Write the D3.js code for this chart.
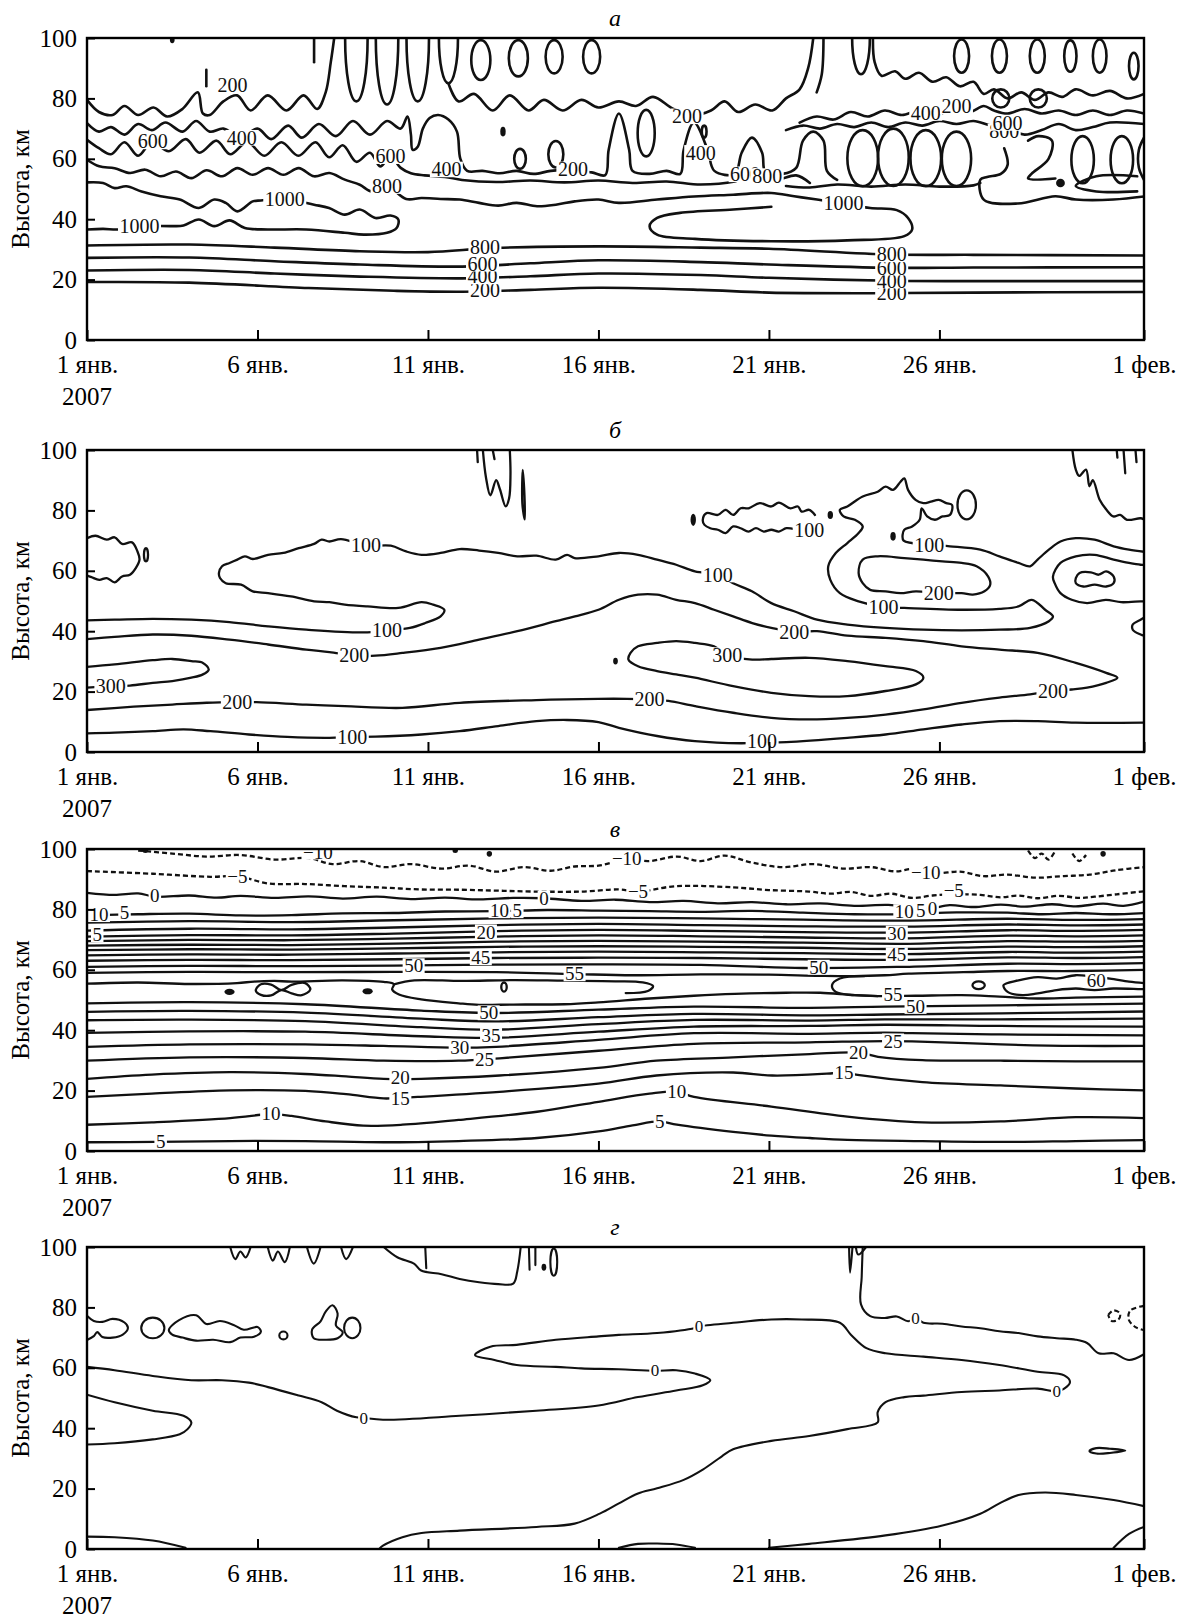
<!DOCTYPE html>
<html>
<head>
<meta charset="utf-8">
<script src="https://cdn.jsdelivr.net/npm/d3@7"></script>
<style>
 body { margin: 0; background: #fff; }
 svg text { font-family: "Liberation Serif", "Times New Roman", serif; }
</style>
</head>
<body>
<svg id="chart" width="1179" height="1620"></svg>
<script>
// ---- axes ----
const dayTicks = [0, 5, 10, 15, 20, 25, 31];
const dayTickLabels = ["1 янв.", "6 янв.", "11 янв.", "16 янв.", "21 янв.", "26 янв.", "1 фев."];
const kmTicks = [0, 20, 40, 60, 80, 100];
const panelTitles = ["а", "б", "в", "г"];

// ---- panel а : contour lines [day, km] ----
const aLines = [
 [[0,79.5],[0.35,75.5],[0.75,74.5],[1.1,77.5],[1.5,74.5],[1.95,77],[2.35,74],[2.8,76.5],[3.25,82],[3.4,75],[3.6,74.5],[4.0,79],[4.4,81],[4.8,76],[5.3,81],[5.85,76],[6.35,81],[6.75,76.5],[7.0,82],[7.15,92],[7.25,100]],
 [[3.5,84],[3.5,89.5]],
 [[6.66,92],[6.66,99.8]],
 [[10.6,85],[10.9,79],[11.35,81.5],[11.9,76],[12.4,81],[12.95,76],[13.4,79.5],[13.95,76],[14.5,79.5],[15,77],[15.6,79],[16.1,77.5],[16.6,80.5],[17.2,76.5],[17.8,74.5],[18.3,76],[18.7,79],[19.1,75.5],[19.6,78],[20.1,76],[20.5,80],[20.9,83],[21.15,90],[21.3,100]],
 [[21.6,100],[21.55,88],[21.4,82]],
 [[23.05,100],[23.1,92],[23.3,87.5],[23.7,89],[24.0,86.5],[24.4,88.5],[24.8,85.5],[25.2,87],[25.6,84],[26.0,85.5],[26.3,81.5],[26.6,83],[27.0,80],[27.4,82],[27.8,79.5],[28.2,82],[28.6,80.5],[29.0,83],[29.5,81],[30.0,82.5],[30.5,80],[31,81.5]],
 [[20.9,72],[21.4,74],[21.9,73],[22.4,75.5],[22.9,74],[23.4,76],[23.9,74.5],[24.4,76],[24.9,74.5],[25.4,76.5],[25.9,75.5],[26.3,77.5],[26.6,76],[27.0,75],[27.5,76.5],[28,75],[28.5,76],[29,74.5],[29.5,76],[30,74.5],[30.5,76],[31,75]],
 [[20.5,69.5],[21,71],[21.5,70],[22,71.5],[22.5,70.5],[23,72],[23.5,70.5],[24,72],[24.5,71],[25,72.5],[25.5,71.5],[26,72.5],[26.5,71],[27,70],[27.5,68],[28,69.5],[28.5,71.5],[29,69.5],[29.5,70.5],[30,72],[31,71.5]],
 [[0,71.8],[0.35,69],[0.7,70.5],[1.1,68],[1.5,71.5],[1.9,69.5],[2.3,72],[2.8,69],[3.2,72.5],[3.6,69],[4.0,70],[4.5,67],[5.0,70],[5.4,66.5],[5.9,71],[6.3,67],[6.8,71.5],[7.3,67.5],[7.8,72.5],[8.3,68],[8.8,72.5],[9.2,70],[9.4,74],[9.5,68],[9.55,63],[9.7,64],[9.85,70],[10.05,73.5],[10.3,74.5],[10.6,73],[10.85,69],[10.95,60],[11.15,56],[11.6,56],[12.1,55.2],[12.6,56],[13.1,55],[13.6,56],[14.25,56.4],[14.8,55.5],[15.2,54.6],[15.3,63],[15.6,75],[15.9,63],[16.0,56],[16.5,55],[17,56],[17.4,55],[17.5,63],[17.8,72],[18.2,63],[18.4,56],[19,55],[19.2,62],[19.5,67],[19.8,62],[19.9,55.5],[20.4,55],[20.8,57],[21.0,66],[21.3,69],[21.6,66],[21.7,56],[22.0,53]],
 [[0,66.3],[0.35,63.5],[0.7,61.5],[1.1,65.5],[1.5,61],[1.9,65.5],[2.4,62.5],[2.9,66.5],[3.3,62],[3.8,66],[4.2,61.5],[4.7,65.5],[5.2,61],[5.7,65.5],[6.2,61],[6.7,65.5],[7.1,60.5],[7.5,64.5],[7.9,59],[8.3,62],[8.6,57.5],[8.9,60.8],[9.2,57],[9.5,55.2],[9.9,54.5],[10.5,54],[11,53],[12,52.3],[13,52.8],[14,52.2],[15,52.8],[16,52],[17,52.5],[18,51.5],[19,52.5],[19.6,54.7],[20.2,53],[20.8,54.5],[21.2,52]],
 [[0,59.7],[0.36,57.5],[0.81,56.9],[1.26,55.3],[1.71,56.4],[2.16,54.2],[2.61,55.8],[3.06,53.6],[3.51,56.2],[3.96,54.2],[4.41,56.9],[4.86,54.7],[5.31,56.9],[5.76,54.7],[6.21,56.9],[6.66,54.2],[7.11,55.3],[7.56,53.1],[8.0,51.4],[8.35,49.2],[8.8,50.9],[9.36,46.7],[9.81,47],[10.37,46.7],[10.93,46.5],[11.5,45.4],[12.06,44.5],[12.6,45.4],[13.2,44.3],[13.75,44.8],[14.3,45.9],[15,46.5],[15.6,45.4],[16.72,46.5],[17.8,47.5],[18.95,48.1],[20.07,48.7],[20.74,47.6],[21.41,46.5],[22.19,45.2],[22.97,43.7],[23.75,43],[24.08,40.4],[24.2,36.6],[23.97,34.4],[22.3,33],[20.07,32.7],[17.83,33.5],[16.72,34.9],[16.5,37.7],[16.72,40.4],[17.39,42.1],[18.95,43.2],[20.07,44.1]],
 [[0,52.2],[0.47,52],[0.81,50.3],[1.15,50.9],[1.6,49.2],[2.16,47.6],[2.72,46.5],[3.28,43.7],[3.73,46.5],[4.07,45.4],[4.41,42.6],[4.86,45.9],[5.1,46.2],[5.8,46.7],[6.66,44.8],[7.1,43.7],[7.56,41.5],[8.0,43.2],[8.46,40.4],[8.9,41.2],[9.13,39.9],[9.08,37.1],[8.8,35.5],[8.12,34.9],[7.56,35.5],[6.43,36.6],[5.3,36.6],[4.63,37.1],[4.18,39.6],[3.73,37.7],[3.28,39.9],[2.83,37.9],[2.5,37.7],[1.54,37.7],[0.92,36.6],[0.47,36.8],[0,36.6]],
 [[0,19.2],[3,19],[6.5,17.2],[9,16.3],[11,16],[13,16.6],[15,17.3],[18,16.6],[20,15.7],[23,15.5],[26,15.7],[31,15.9]],
 [[0,23],[3,23.2],[5.5,22],[8,21],[11,20.4],[13,21.1],[15,22],[18,21.5],[20,20.6],[23.6,19.6],[26,19.5],[31,19.5]],
 [[0,27.2],[3,27.3],[5.5,26.1],[8,25],[11,24.3],[13,25.4],[15,26.4],[18,25.8],[20,25],[23.6,23.9],[26,24],[31,24.1]],
 [[0,31.3],[3,31.6],[5.5,30.6],[8,29.4],[10,29.1],[12,30.5],[15,31],[18,30.6],[20,30.2],[23.6,28.3],[26,28.2],[31,28]],
 [[26.9,63.5],[27.0,58],[26.8,55],[26.4,54],[26.2,53.1],[26.3,46.5],[27.3,45.2],[28.4,47.6],[29,46.5],[30.1,46.5],[31,47.5]],
 [[30.8,54.2],[29.6,54.2],[29.0,51],[29.6,49.2],[30.8,49.2]],
 [[27.6,66],[27.9,67.5],[28.3,66],[28.2,60],[27.7,55],[27.6,53.5],[28.4,53.5]],
 [[31,67],[30.85,63],[30.85,57],[31,53]],
 [[20.5,51],[21.2,50.5],[22,51.5],[23,50.8],[24,51.5],[25,50.8],[26,51.2],[26.2,52]]
];
const aLoops = [];
// [day, km, half-width in days, half-height in km]
const aOvals = [
 [7.9,100,0.33,21],[8.8,100,0.33,22],[9.7,100,0.33,21],[10.6,100,0.28,15],[22.7,100,0.26,12],
 [11.55,92.7,0.28,6.6],[12.65,93.3,0.28,6],[13.7,93.8,0.25,5.5],[14.8,93.8,0.25,5.5],
 [25.65,94,0.22,5.5],[26.76,94,0.22,5.5],[27.87,94,0.22,5.5],[28.84,94,0.18,5.2],[29.7,94,0.2,5.5],[30.7,90.7,0.14,4.4],
 [12.7,60,0.17,3.3],[13.75,61.5,0.22,4.4],[16.4,68.5,0.25,7.7],[18.1,69,0.07,2],
 [22.75,60.2,0.45,9.3],[23.65,60.5,0.45,9.5],[24.6,60.2,0.45,9.3],[25.5,60,0.43,9],
 [29.2,59.7,0.33,7.8],[30.35,59.7,0.33,7.8],[26.8,80,0.25,3],[27.9,80,0.25,3]
];
const aDots = [[12.2,69,0.05,1.3],[28.55,52,0.1,1.1],[2.5,99.3,0.04,0.7]];
const aLabels = [
 [4.27,84.5,"200"],[1.93,65.7,"600"],[4.54,66.9,"400"],[5.8,46.7,"1000"],[1.54,37.7,"1000"],
 [8.9,60.8,"600"],[8.8,50.9,"800"],[10.54,56.4,"400"],[14.25,56.4,"200"],
 [11.67,16.4,"200"],[11.6,21,"400"],[11.6,25.2,"600"],[11.67,30.6,"800"],
 [17.6,74,"200"],[18.0,61.9,"400"],[19.3,54.8,"600"],[19.95,54.2,"800"],[22.19,45.2,"1000"],
 [24.6,75.1,"400"],[25.5,77.3,"200"],[26.9,69,"800"],[27.0,71.8,"600"],
 [23.6,15.5,"200"],[23.6,19.6,"400"],[23.6,23.9,"600"],[23.6,28.3,"800"]
];

// ---- panel б ----
const bLines = [
 [[0,70.8],[0.25,71.6],[0.58,70.3],[0.81,71.1],[1.03,68.9],[1.32,69.4],[1.48,66.4],[1.54,63.7],[1.43,60.9],[1.26,58.7],[1.03,58.1],[0.81,56.2],[0.58,57.6],[0.36,57],[0.13,57.9],[0,58.4]],
 [[11.44,100],[11.46,96]],
 [[11.61,100],[11.7,91],[11.83,85],[12.0,90],[12.11,87],[12.28,81.3],[12.38,84],[12.42,92],[12.4,100]],
 [[11.9,100],[11.95,97]],
 [[0,43.6],[0.81,43.8],[1.93,44.1],[3.06,43.8],[4.18,43],[5.31,41.6],[6.43,40.5],[8.12,39.6],[8.8,40.3],[9.47,41.1],[9.92,42.7],[10.37,44.9],[10.48,47.1],[10.15,48.8],[9.81,49.6],[9.13,47.7],[8.23,48.2],[7.56,48.8],[7.11,49.6],[6.66,49.9],[5.98,51.5],[5.31,52.6],[4.86,53.2],[4.52,55.4],[4.07,55.9],[3.9,57.6],[3.87,59.3],[3.96,61.5],[4.18,62.6],[4.41,63.7],[4.63,64.8],[4.86,63.9],[5.31,65.3],[5.76,65.9],[6.21,67.5],[6.66,68.9],[6.88,70.3],[7.11,69.7],[7.45,70.5],[8.18,68.3],[8.91,68.3],[9.36,66.4],[9.81,65.3],[10.37,65.9],[10.93,67.2],[11.5,66.7],[12.06,65.9],[12.62,64.8],[13.18,65],[13.75,63.7],[14.08,65.3],[14.3,64.2],[15,64.8],[15.6,65.9],[16.16,65.3],[16.72,63.7],[17.28,62],[17.83,59.8],[18.5,58.7],[18.95,55.9],[19.5,53.2],[20.07,49.3],[20.74,46.6],[21.41,43.8],[22.3,42.2],[23.42,41.1],[24.53,40.5],[25.65,40.3],[26.76,40.5],[27.66,41.1],[28.21,43.3],[28.33,44.9],[28.1,47.1],[27.71,50.4],[27.32,48.2],[26.76,47.4],[25.65,47.1],[23.97,47.7],[23.36,48],[22.63,49.9],[22.08,52.6],[21.8,57],[21.74,61.5],[21.96,65.9],[22.3,69.2],[22.63,72.5],[22.75,74.7],[22.52,76.9],[22.19,78],[22.08,80.2],[22.3,81.3],[22.75,84.6],[23.19,86.2],[23.42,87.9],[23.64,86.8],[23.86,89.5],[23.97,90.6],[24.08,86.8],[24.3,83.5],[24.53,82.4],[24.75,82.9],[24.98,83.5],[25.2,82.4],[25.37,81.8],[25.31,78.5],[25.09,78],[24.87,76.9],[24.64,78],[24.48,80.7],[24.42,76.9],[24.2,74.7],[23.97,73.6],[23.92,71.9],[23.95,70],[24.7,68.6],[25.31,68.1],[26.2,67],[26.76,64.8],[27.32,62.6],[27.66,61.5],[27.88,63.7],[28.21,67],[28.55,69.7],[29,70.8],[29.55,70.3],[30.11,68.1],[30.56,67],[31,66.3]],
 [[0,37.4],[0.81,38.1],[1.93,38.9],[3.06,38.5],[4.18,37.2],[5.31,35.6],[6.43,33.9],[7.11,33.1],[7.84,32],[8.46,31.9],[9.25,32.8],[10.37,34.5],[11.5,37.2],[12.62,40],[13.75,43.3],[14.31,44.9],[15,47.1],[15.6,50.4],[16.16,52.1],[16.72,52.1],[17.28,50.4],[17.83,49.3],[18.39,47.1],[18.95,44.9],[19.51,42.7],[20.07,41.1],[20.74,39.8],[21.41,40],[22.3,38.5],[23.42,37.8],[24.53,36.7],[25.65,35],[26.76,33.9],[27.88,32.8],[29,29.5],[29.89,26.2],[30.22,24.6],[29.89,22.9],[29.33,21.3],[28.88,20.7],[28.33,20.2],[27.66,19.1],[26.76,18],[25.65,16.3],[24.53,14.1],[23.42,12.4],[22.3,11.3],[21.18,10.8],[20.07,11.3],[18.95,13],[17.83,15.2],[17.05,16.9],[16.5,17.4],[15.83,17.6],[15,17.6],[13.18,17.2],[10.93,16.3],[9.25,14.6],[7.56,15.2],[6.43,15.7],[4.97,16.5],[4.41,16.5],[3.51,16.3],[2.5,15.7],[1.37,15],[0,13.9]],
 [[0,28.2],[0.81,29],[1.93,30.4],[2.5,30.8],[3.06,30.1],[3.4,29.5],[3.57,27.3],[3.4,25.7],[3.06,24.6],[2.5,23.5],[1.93,22.9],[1.26,22],[0.7,21.8],[0,21.3]],
 [[0,6.2],[0.81,6.4],[1.93,6.9],[2.83,7.5],[3.62,6.9],[4.75,5.8],[5.87,5],[7.11,4.7],[7.78,5],[8.46,5.1],[9.81,5.8],[10.93,6.9],[12.06,8.6],[13.18,10.2],[14.08,10.6],[15,9.9],[15.6,8],[16.72,5.3],[17.83,3.6],[19.17,2.9],[19.79,3.1],[20.51,3.3],[22.3,4.7],[23.42,5.8],[24.53,7.5],[25.65,9.1],[26.76,10.2],[27.88,10.2],[29,9.7],[31,9.7]],
 [[31,62],[30.9,62],[30.56,62.6],[30.11,63.7],[29.55,65.3],[29,64.8],[28.55,62.6],[28.33,58.1],[28.38,55.9],[28.55,52.6],[28.88,50.4],[29.33,49.3],[29.88,50.4],[30.33,49.6],[30.9,49.9],[31,49.9]],
 [[31,44.5],[30.9,43.8],[30.67,42.2],[30.67,40.5],[30.9,38.9],[31,38.5]],
 [[28.9,100],[29.0,93.5],[29.1,91.4],[29.3,93.5],[29.4,88],[29.5,90],[29.7,83.5],[29.9,80.2],[30.1,78],[30.3,78.5],[30.5,76.9],[30.9,77.4],[31,77]],
 [[30.4,100],[30.45,92.3]],[[30.2,100],[30.22,97.5]],[[30.75,100],[30.78,96]],
 [[21.35,78.5],[21.18,80.2],[20.96,79.6],[20.85,81.3],[20.63,80.7],[20.29,82.6],[20.07,81.3],[19.73,82.4],[19.4,80.7],[19.17,80.7],[18.95,78.5],[18.73,80.2],[18.5,78.5],[18.17,79.1],[18.06,76.9],[18.11,75.2],[18.28,74.1],[18.5,73.6],[18.73,72.5],[18.95,74.7],[19.17,74.1],[19.4,73],[19.62,74.1],[19.85,73],[20.07,73.6],[20.29,73],[20.51,74.1],[20.75,73.8]]
];
const bLoops = [
 [[12.78,93.4],[12.83,85],[12.84,77],[12.77,82]],
 [[22.75,63.7],[23.19,64.8],[23.97,64.2],[24.53,63.7],[25.09,63.1],[25.65,62.6],[26.09,61.5],[26.43,58.1],[26.49,55.4],[26.32,53.2],[25.98,52.1],[25.65,52.6],[24.98,52.6],[24.31,53.2],[23.86,52.6],[23.42,53.2],[22.97,53.7],[22.75,55.9],[22.63,59.3]],
 [[29,57.6],[29.11,59.3],[29.44,59.5],[29.67,58.7],[29.89,59.8],[30.11,58.1],[30.11,55.9],[29.89,54.8],[29.55,55.4],[29.22,54.8],[29,55.9]],
 [[15.94,32.8],[16.16,35],[16.72,36.1],[17.28,36.7],[17.83,36.1],[18.39,35],[18.78,32],[19.51,30.6],[20.07,30.8],[21.18,31.2],[22.3,30.1],[23.42,28.4],[24.31,26.8],[24.53,24.6],[24.31,22.4],[23.42,20.2],[22.3,18.5],[21.18,18.5],[20.07,19.6],[18.95,21.8],[17.83,24.6],[17.28,25.7],[16.72,26.8],[16.16,28.4],[15.88,30.6]]
];
const bOvals = [[1.73,65.3,0.06,2.2],[25.8,81.8,0.27,4.8]];
const bDots = [[17.78,76.9,0.05,1.7],[21.8,78.5,0.05,1],[23.64,71.4,0.05,1.1],[15.5,30.1,0.04,0.8]];
const bLabels = [
 [8.8,40.3,"100"],[8.18,68.6,"100"],[7.84,32,"200"],[0.7,21.8,"300"],[4.41,16.5,"200"],[7.78,5,"100"],
 [18.5,58.7,"100"],[21.18,73.6,"100"],[24.7,68.6,"100"],[23.36,48,"100"],[24.98,52.6,"200"],
 [20.74,39.6,"200"],[18.78,32,"300"],[28.33,20.2,"200"],[16.5,17.4,"200"],[19.8,3.6,"100"]
];

// ---- panel в ----
const vLines = [
 // lower band: 5 .. 50
 [[0,2.9],[2,3],[4.2,3.3],[6.4,3.3],[8.7,2.9],[10.9,3.3],[13.2,4.3],[15,6.5],[16,8.5],[16.8,9.8],[17.3,8.7],[18.95,6.3],[20.07,5.1],[21.2,4.3],[22.3,3.7],[24.5,3.3],[26.8,3],[29,3.3],[31,3.6]],
 [[0,8.7],[1.9,9.5],[4.2,10.9],[5.1,12],[5.4,12.3],[6,11.6],[7,9.8],[8.1,8.4],[9.25,8.7],[10.9,10.3],[13.2,13],[15,16.3],[16.5,19],[17.3,19.6],[17.8,17.9],[20.07,14.7],[22.3,11.4],[24.5,9.5],[26.8,9.8],[29,11.2],[31,10.9]],
 [[0,17.9],[1.9,19],[4.2,20.1],[6.4,19.9],[7.6,18.8],[8.7,17.4],[9.2,17.6],[9.7,17.9],[12.1,19.6],[15,22.3],[16.7,25],[18.95,26],[20.1,25],[21.7,25.6],[22.2,26],[22.6,25.2],[24.5,22.8],[26.8,21.7],[29,20.7],[31,20.1]],
 [[0,23.9],[1.9,25.3],[4.2,26.1],[6.4,25.5],[7.6,24.7],[8.7,23.9],[9.8,23.9],[12.1,25],[15,27.5],[16.7,29.9],[18.95,31],[21.2,32.1],[22.6,32.6],[23.2,31.2],[24.5,30.1],[26.8,29.9],[29,29.7],[31,29.7]],
 [[0,29.9],[3,31],[6.4,30.8],[8.7,29.9],[10.9,29.9],[12.1,30.7],[15,33.2],[17.8,35.5],[21.2,36],[23.4,36.4],[24.2,36.3],[26.8,35.3],[29,34.8],[31,34.8]],
 [[0,34.5],[3,35.3],[6.4,35.3],[8.7,34.8],[10.9,34.2],[12,34.5],[15,36.8],[17.8,39],[21.2,38.8],[23.4,39.2],[24.2,39],[26.8,38.6],[31,38.3]],
 [[0,39.1],[3,39.6],[6.4,39.5],[9.8,38],[12,37.5],[15,39.5],[17.8,41.2],[21.2,41.4],[23.4,41.8],[26.8,41.4],[31,41.2]],
 [[0,43.3],[3,43.5],[6.4,43],[9.8,41],[12,40.2],[15,42],[17.8,43.4],[21.2,43.2],[23.4,43.6],[26.8,43.6],[31,43.8]],
 [[0,46.1],[3,46.4],[6.4,45.8],[9.8,43.8],[12,42.9],[15,44.3],[17.8,45.4],[21.2,44.9],[23.4,45.2],[26.8,45.6],[31,46.2]],
 [[0,48.9],[3,49.3],[6.4,48.6],[9.8,46.5],[12,45.7],[15,46.8],[17.8,47.8],[21.2,47.4],[23.4,47.8],[26.8,48.2],[31,48.8]],
 // 55 around the maximum
 [[0,55.4],[1.5,55.8],[3,55.3],[4.4,55.6],[4.9,56.1],[5.5,56.3],[6.0,56.1],[7.5,56.5],[8.7,56],[9.0,55.2],[8.95,53.5],[9.15,51.8],[9.8,50.2],[10.9,48.9],[11.5,48.4],[12.5,48.5],[14,48.6],[15,49.2],[16.5,50.5],[17.8,51.4],[19,52],[20.5,52.4],[21.5,52.4],[22.5,51.6],[23.2,51.3],[24.3,51.4],[25.65,51.6],[26.76,51.1],[27.88,50.5],[29,50.8],[31,51.1]],
 [[9.0,55.2],[9.6,56.5],[11,56.3],[12.5,56.6],[14,56.4],[15.5,56.2],[16.3,55.8],[16.6,54.6],[16.45,53],[15.8,52.3]],
 [[22.8,57.9],[22.08,57.1],[21.85,54.9],[21.96,52.7],[22.52,51.6],[23.19,51.3]],
 [[31,55.6],[30.56,56.1],[30,57.1],[29.55,57.6],[29,58.2],[28.44,57.1],[27.88,57.6],[27.32,56.5],[26.88,54.9],[27,52.7],[27.44,51.6],[27.88,52.2],[28.44,53.3],[29,53.8],[29.55,53.3],[30.1,53.8],[30.9,53.6],[31,53.6]],
 // upper band: 55 .. 5
 [[0,59],[3,59.3],[6,59.2],[9,59.3],[12,59.2],[14.3,58.6],[16,58.2],[18,58.5],[20,58.4],[21.5,58],[22.5,57.9],[23.4,58.2],[24.1,58.7],[25.7,59.2],[27,59.6],[29,59.6],[31,60]],
 [[0,61],[3,61.3],[6,61.2],[9,61.4],[12,61.7],[15,61.8],[18,61.6],[21,60.6],[24,61],[27,62],[29,61.9],[31,62.2]],
 [[0,63],[3,63.3],[6,63.2],[9,63.5],[12,63.9],[15,64],[18,63.9],[21,63.5],[24,63.3],[27,64.1],[29,63.9],[31,64.2]],
 [[0,64.8],[3,65.1],[6,65],[9,65.4],[12,65.8],[15,66],[18,65.8],[21,65.5],[24,65.2],[27,65.9],[29,65.7],[31,66]],
 [[0,66.5],[3,66.8],[6,66.7],[9,67.1],[12,67.6],[15,67.8],[18,67.6],[21,67.3],[24,66.9],[27,67.7],[29,67.5],[31,67.8]],
 [[0,68],[3,68.3],[6,68.2],[9,68.7],[12,69.3],[15,69.6],[18,69.3],[21,69],[24,68.6],[27,69.5],[29,69.3],[31,69.6]],
 [[0,69.5],[3,69.9],[6,69.8],[9,70.3],[12,71],[15,71.4],[18,71.1],[21,70.7],[24,70.4],[27,71.3],[29,71.1],[31,71.4]],
 [[0,71],[3,71.5],[6,71.4],[9,72],[12,72.8],[15,73.2],[18,72.9],[21,72.5],[24,72.3],[27,73.1],[29,72.9],[31,73.2]],
 [[0,73],[3,73.6],[6,73.4],[9,74],[12,74.8],[15,75.2],[18,74.8],[21,74.4],[24,74.3],[27,75],[29,74.7],[31,75]],
 [[0,75.6],[3,76.1],[6,75.8],[9,76.4],[12,77],[15,77.3],[18,77],[21,76.6],[24,76.3],[27,76.9],[29,76.5],[31,76.8]],
 [[0,78],[1.5,78.4],[3,78.6],[4.5,78],[6,78.1],[7.5,78.7],[9,78.8],[10.5,79.3],[12,79.4],[13.5,79.8],[15,79.6],[16.5,79.4],[18,79.2],[19.5,79.5],[21,78.9],[22.5,78.4],[24,78.4],[25.5,79],[27,78.9],[28,78.4],[29,78.8],[30,78.4],[31,78.8]],
 // 0
 [[0,85.5],[0.8,84.8],[1.5,85.3],[2,84.2],[3,84.6],[3.8,83.9],[4.5,84.5],[5.5,83.8],[6.5,84.3],[7.5,83.6],[8.5,84.2],[9.5,83.4],[10.5,83.9],[11.5,83.3],[12.5,83.8],[13.4,83.7],[14.5,82.8],[15.5,83.2],[16.5,82.4],[17.5,82.8],[18.5,82],[19.5,82.4],[20.5,81.7],[21.5,82],[22.5,81.2],[23.5,81.5],[24.3,80.6],[24.75,80.4],[25.3,81.4],[26,80.8],[26.8,81.6],[27.5,80.9],[28.3,81.7],[29,81],[29.8,81.9],[30.4,81.2],[31,82.6]]
];
const vDashed = [
 [[0,92.7],[1.93,91.8],[3.62,90.8],[4.41,91],[5.31,88.6],[6.4,88.4],[7.56,87.7],[8.7,87.2],[9.81,86.6],[11,86.5],[12.06,86.2],[13.18,85.9],[14.49,85.9],[15.6,86.6],[16.16,85.9],[17.28,87.7],[18.95,87.3],[20,86.4],[21.18,85.9],[21.8,85.2],[22.4,85.8],[23,84.5],[23.6,85.2],[24.2,83.8],[24.8,84.6],[25.42,85],[26.2,84.8],[26.8,84],[27.3,84.6],[27.88,83.7],[28.5,84.5],[29.1,83.8],[29.55,84.2],[30.2,85],[31,86]],
 [[1.5,99.5],[2.5,98.5],[3.5,97.5],[4.5,98],[5.5,96.5],[6.5,97],[7.2,95],[8,96],[8.7,94],[9.5,95],[10.4,93.5],[11.2,94.5],[12,92.5],[12.8,94],[13.6,92.8],[14.3,94.2],[15,94.5],[15.83,96.5],[16.5,96],[17.3,97.5],[18,96],[18.7,97.8],[19.5,95.5],[20.4,94],[21.3,95],[22.2,93.5],[23,94],[23.7,92.6],[24.3,93.5],[24.9,92],[25.6,92.5],[26.3,91],[27,91.5],[27.8,90.5],[28.6,91],[29.4,91.5],[30.2,93],[31,94]],
 [[27.6,99.5],[27.8,97],[28.0,98.5],[28.2,96.5],[28.4,99.5]],
 [[28.9,98.5],[29.1,96],[29.3,98]]
];
const vLoops = [
 [[4.95,53.2],[5.1,55.2],[5.4,55.1],[5.7,53.3],[6.0,55],[6.4,55.6],[6.55,53.5],[6.3,51.6],[6.0,52.2],[5.7,53.3],[5.4,51.5],[5.1,51.7]]
];
const vOvals = [[26.15,54.9,0.18,1.3],[12.23,54.3,0.08,1.5]];
const vDots = [[4.18,52.7,0.12,0.7],[8.23,52.9,0.12,0.7],[1.71,99.5,0.05,0.5],[10.8,99.5,0.05,0.5],[11.8,98.4,0.05,0.6],[29.8,98.4,0.05,0.6]];
const vLabels = [
 [2.16,3.1,"5"],[5.4,12.3,"10"],[9.19,17.3,"15"],[9.19,24.3,"20"],[10.93,34.2,"30"],[11.66,30.3,"25"],
 [11.85,38.2,"35"],[11.78,45.7,"50"],
 [16.8,9.8,"5"],[17.3,19.6,"10"],[22.2,26,"15"],[22.63,32.6,"20"],
 [23.64,36.4,"25"],[23.64,51.8,"55"],[24.3,47.8,"50"],
 [9.58,61.3,"50"],[14.3,58.6,"55"],[21.46,60.8,"50"],[29.6,56.6,"60"],
 [11.55,63.9,"45"],[11.7,72.5,"20"],[12.1,79.5,"10"],[12.62,79.5,"5"],
 [23.75,64.9,"45"],[23.75,72.1,"30"],[23.97,79.2,"10"],[24.45,79.6,"5"],
 [0.35,78.2,"10"],[0.3,71.6,"5"],[1.1,79,"5"],
 [1.99,84.5,"0"],[13.4,83.7,"0"],[24.8,80.4,"0"],
 [4.41,91,"\u22125"],[16.16,85.9,"\u22125"],[25.42,86.4,"\u22125"],
 [6.77,98.9,"\u221210"],[15.83,96.7,"\u221210"],[24.6,92.2,"\u221210"]
];

// ---- panel г ----
const gLines = [
 [[0,60.3],[0.81,59.2],[1.93,57.3],[3.06,55.9],[3.96,55.9],[4.75,55.1],[5.31,53.6],[6.21,50.8],[6.88,48.6],[7.33,45.8],[7.9,43.6],[8.12,43.4],[8.68,42.8],[10.93,44.1],[13.18,45.8],[15,47.5],[16.16,50.3],[17.28,52.5],[18.06,54.2],[18.28,55.9],[17.83,58.1],[17.28,59.2],[16.66,59],[15.6,59.5],[14.49,59.8],[13.75,60.3],[12.6,60.9],[11.95,62.6],[11.38,64.2],[11.83,67],[12.6,67.6],[13.75,69.3],[15,70.4],[15.6,70.9],[16.72,71.5],[17.83,73.2],[17.95,73.7],[18.95,74.9],[20.07,76],[20.96,76],[22.08,74.9],[22.41,70.9],[22.86,66.5],[23.42,64.8],[24.53,63.7],[25.65,62.6],[26.76,60.9],[27.88,58.7],[28.66,57.5],[28.83,55.3],[28.66,53.1],[28.44,52.2],[27.88,53.1],[26.76,52.5],[25.65,52],[24.53,50.8],[23.97,50.3],[23.42,48.6],[23.19,45.3],[23.19,41.9],[22.3,39.7],[21.18,37.4],[20.07,35.8],[18.95,33],[18.62,30.7],[18.06,26.3],[17.5,22.9],[16.72,20.1],[16.16,18.4],[15.6,15.1],[15.04,11.7],[14.3,8.4],[13.18,7.3],[10.93,6.1],[9.81,5.3],[9.25,3.9],[8.68,1.1],[8.57,0]],
 [[0,51.1],[0.81,48.6],[1.93,45.8],[2.83,44.1],[3.06,41.9],[2.95,39.7],[2.72,38],[1.93,36.3],[0.81,35],[0,34.6]],
 [[0,4.1],[0.81,3.9],[1.93,2.8],[2.89,0.4]],
 [[15.6,0.4],[16.16,1.7],[16.72,1.8],[17.28,1.5],[17.83,0.4]],
 [[20,0.4],[21.18,1.7],[23.42,4.5],[25.09,7.8],[26.2,11.7],[26.76,15.1],[27.32,17.9],[28.1,18.7],[29,17.9],[30.11,16.2],[31,14.2]],
 [[30.11,0.4],[30.56,5],[31,7.3]],
 [[22.75,100],[22.72,90],[22.7,81],[22.97,77.1],[23.4,76.5],[23.75,77],[24.08,75.4],[24.3,76.5],[24.53,74.9],[25.09,74.6],[25.65,73.7],[26.2,73.1],[26.76,72.1],[27.32,71.5],[27.88,70.4],[28.44,69.8],[29,69.3],[29.33,68.2],[29.67,64.8],[30.11,64.8],[30.56,62.6],[31,64.5]],
 [[0,77.2],[0.2,75.5],[0.45,75.2],[0.75,76.2],[1.1,75],[1.2,73.2],[1.05,71],[0.75,70],[0.45,70.2],[0.3,71.8],[0.2,70.5],[0,69.2]],
 [[4.2,100],[4.35,96],[4.5,98.5],[4.65,96.5],[4.8,100]],
 [[5.3,100],[5.45,95.5],[5.6,98.5],[5.8,95],[5.95,100]],
 [[6.45,100],[6.65,94.5],[6.85,100]],
 [[7.45,100],[7.6,96],[7.8,100]],
 [[8.7,100],[9.1,96.6],[9.6,94.4],[9.8,92.2],[10.4,91],[10.93,89.4],[11.5,88.3],[12.06,87.7],[12.5,87.9],[12.62,92],[12.72,100]],
 [[9.92,100],[9.95,93]],
 [[12.96,100],[12.98,92.5]],[[13.15,100],[13.15,94]],
 [[22.35,100],[22.38,91.5],[22.45,100]],[[22.55,100],[22.62,97.5],[22.85,100]]
];
const gLoops = [
 [[2.4,72.5],[2.7,75.8],[3.2,77.4],[3.5,74.5],[3.9,75.5],[4.3,74.2],[4.6,72.6],[5.0,73.5],[5.1,72],[4.9,70.3],[4.5,70],[4.2,68.5],[3.7,69.3],[3.2,69],[2.8,70],[2.5,71]],
 [[6.65,69.8],[6.6,72.6],[6.85,75.4],[7.0,78.6],[7.2,80.7],[7.35,78],[7.3,74],[7.5,71.8],[7.35,69.8],[7.0,69.3]],
 [[29.4,32.4],[29.6,33.4],[30.0,33.2],[30.45,32.6],[30.0,31.8],[29.6,31.6]]
];
const gDashed = [
 [[29.95,77.5],[30.1,79],[30.3,78],[30.25,76],[30.05,75.5],[29.95,77.5]],
 [[31,80.5],[30.6,79],[30.55,76],[30.75,73.5],[31,72.5]]
];
const gOvals = [[1.93,73.2,0.34,3.4],[5.76,70.7,0.12,1.3],[7.78,73.2,0.24,3.4],[13.69,95,0.1,4.5]];
const gDots = [[13.4,93.3,0.04,0.8]];
const gLabels = [[8.12,43.4,"0"],[16.66,59.3,"0"],[17.95,73.7,"0"],[24.3,76.5,"0"],[28.44,52.4,"0"]];

// ---- drawing ----
const FONT = "Liberation Serif, Times New Roman, serif";
const svg = d3.select("#chart");
const x = d3.scaleLinear().domain([0, 31]).range([87, 1144]);
const PH = 302;
const tops = [38, 450, 849, 1247];

const panels = [
 {lines: aLines, loops: aLoops, dashed: [], ovals: aOvals, dots: aDots, labels: aLabels, fs: 20, sw: 2.6},
 {lines: bLines, loops: bLoops, dashed: [], ovals: bOvals, dots: bDots, labels: bLabels, fs: 20, sw: 2.3},
 {lines: vLines, loops: vLoops, dashed: vDashed, ovals: vOvals, dots: vDots, labels: vLabels, fs: 19, sw: 2.3},
 {lines: gLines, loops: gLoops, dashed: gDashed, ovals: gOvals, dots: gDots, labels: gLabels, fs: 17, sw: 2.1}
];

panels.forEach((p, i) => {
  const top = tops[i];
  const y = d3.scaleLinear().domain([0, 100]).range([top + PH, top]);

  svg.append("clipPath").attr("id", "clip" + i)
    .append("rect").attr("x", x(0)).attr("y", y(100))
    .attr("width", x(31) - x(0)).attr("height", y(0) - y(100));

  const cg = svg.append("g").attr("clip-path", `url(#clip${i})`);

  const line = d3.line().x(d => x(d[0])).y(d => y(d[1])).curve(d3.curveCatmullRom.alpha(0.5));
  const loop = d3.line().x(d => x(d[0])).y(d => y(d[1])).curve(d3.curveCatmullRomClosed.alpha(0.5));

  cg.selectAll("path.ln").data(p.lines).join("path").attr("class", "ln")
    .attr("d", line).attr("fill", "none").attr("stroke", "#111")
    .attr("stroke-width", p.sw).attr("stroke-linejoin", "round").attr("stroke-linecap", "round");

  cg.selectAll("path.lp").data(p.loops).join("path").attr("class", "lp")
    .attr("d", loop).attr("fill", "none").attr("stroke", "#111")
    .attr("stroke-width", p.sw).attr("stroke-linejoin", "round");

  cg.selectAll("path.ds").data(p.dashed).join("path").attr("class", "ds")
    .attr("d", line).attr("fill", "none").attr("stroke", "#111")
    .attr("stroke-width", p.sw).attr("stroke-dasharray", "5,3");

  cg.selectAll("ellipse.ov").data(p.ovals).join("ellipse").attr("class", "ov")
    .attr("cx", d => x(d[0])).attr("cy", d => y(d[1]))
    .attr("rx", d => x(d[2]) - x(0)).attr("ry", d => y(0) - y(d[3]))
    .attr("fill", "none").attr("stroke", "#111").attr("stroke-width", p.sw);

  cg.selectAll("ellipse.dt").data(p.dots).join("ellipse").attr("class", "dt")
    .attr("cx", d => x(d[0])).attr("cy", d => y(d[1]))
    .attr("rx", d => x(d[2]) - x(0) + 1).attr("ry", d => y(0) - y(d[3]) + 1)
    .attr("fill", "#111");

  // contour labels on white patches
  const lab = cg.append("g").attr("font-size", p.fs);
  p.labels.forEach(([d, k, s]) => {
    const gg = lab.append("g");
    const r = gg.append("rect").attr("fill", "#fff");
    const t = gg.append("text").attr("x", x(d)).attr("y", y(k)).attr("dy", "0.34em")
      .attr("text-anchor", "middle").attr("fill", "#111").text(s);
    const w = t.node().getComputedTextLength();
    r.attr("x", x(d) - w / 2 - 1.5).attr("y", y(k) - p.fs * 0.4)
      .attr("width", w + 3).attr("height", p.fs * 0.78);
  });

  // frame
  svg.append("rect").attr("x", x(0)).attr("y", y(100))
    .attr("width", x(31) - x(0)).attr("height", y(0) - y(100))
    .attr("fill", "none").attr("stroke", "#000").attr("stroke-width", 2.4);

  // axes
  const gx = svg.append("g").attr("transform", `translate(0,${y(0)})`)
    .call(d3.axisBottom(x).tickValues(dayTicks).tickFormat((d, j) => dayTickLabels[j])
      .tickSizeInner(-10).tickSizeOuter(0).tickPadding(15));
  gx.attr("font-size", 25).attr("font-family", FONT);
  gx.select(".domain").remove();
  gx.selectAll(".tick line").attr("stroke-width", 2);

  const gy = svg.append("g").attr("transform", `translate(${x(0)},0)`)
    .call(d3.axisLeft(y).tickValues(kmTicks).tickSizeInner(-8).tickSizeOuter(0).tickPadding(10));
  gy.attr("font-size", 25).attr("font-family", FONT);
  gy.select(".domain").remove();
  gy.selectAll(".tick line").attr("stroke-width", 2);

  svg.append("text").attr("x", x(0)).attr("y", y(0) + 65).attr("text-anchor", "middle")
    .attr("font-size", 25).text("2007");

  svg.append("text").attr("transform", `translate(29,${(y(0) + y(100)) / 2}) rotate(-90)`)
    .attr("text-anchor", "middle").attr("font-size", 25).text("Высота, км");

  svg.append("text").attr("x", 615).attr("y", y(100) - 12).attr("text-anchor", "middle")
    .attr("font-size", 24).attr("font-style", "italic").text(panelTitles[i]);
});
</script>
</body>
</html>
